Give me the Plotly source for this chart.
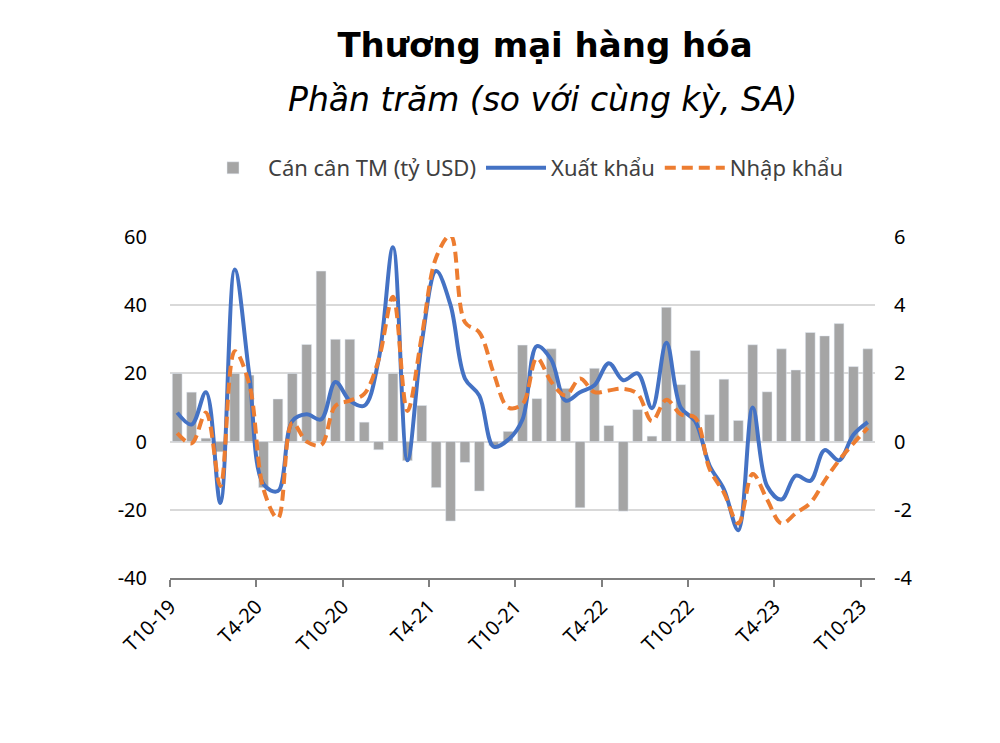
import plotly.graph_objects as go

months = list(range(49))  # T10-19 ... T10-23
tick_labels = ["T10-19", "T4-20", "T10-20", "T4-21", "T10-21", "T4-22", "T10-22", "T4-23", "T10-23"]
left_ticks = [-40, -20, 0, 20, 40, 60]
right_ticks = [-4, -2, 0, 2, 4, 6]

balance = [2.0, 1.45, 0.1, -0.3, 2.0, 1.95, -1.35, 1.25, 2.0, 2.85, 5.0, 3.0, 3.0, 0.57, -0.24,
           2.0, -0.56, 1.06, -1.35, -2.33, -0.61, -1.45, -0.12, 0.3, 2.83, 1.26, 2.72, 1.56,
           -1.94, 2.15, 0.47, -2.04, 0.94, 0.16, 3.94, 1.67, 2.67, 0.79, 1.83, 0.62, 2.84, 1.46,
           2.72, 2.1, 3.2, 3.1, 3.46, 2.2, 2.72]

exports = [8.5, 5.0, 14.5, -18.0, 50.5, 20.0, -12.5, -14.5, 6.0, 8.0, 6.5, 17.5, 12.0, 10.5, 24.0,
           57.0, -5.5, 29.0, 50.0, 40.0, 18.5, 13.5, -1.5, 0.5, 6.5, 28.0, 24.0, 12.0, 14.5, 16.5,
           23.0, 18.0, 20.0, 9.8, 29.0, 10.0, 6.0, -7.0, -14.0, -26.0, 10.0, -13.0, -17.0, -10.0,
           -11.5, -2.5, -5.5, 2.0, 5.7]

imports = [2.5, -0.5, 8.5, -13.0, 26.5, 17.0, -14.0, -22.5, 5.5, 0.0, -1.0, 10.5, 12.0, 14.0, 24.0,
           42.5, 9.0, 31.0, 54.0, 60.5, 35.0, 32.0, 20.0, 10.0, 11.0, 24.5, 17.5, 13.5, 18.5, 14.5,
           15.0, 15.5, 14.0, 6.0, 12.3, 8.0, 7.0, -8.0, -15.0, -24.0, -9.5, -17.0, -24.0, -21.0,
           -18.0, -11.5, -5.5, -0.5, 4.0]

font_family = "Noto Sans"
title_family = "DejaVu Sans"
txt = "#404040"

fig = go.Figure()
fig.add_trace(go.Bar(x=months, y=balance, name="Cán cân TM (tỷ USD)", marker_color="#a5a5a5",
                     width=0.68, yaxis="y"))
fig.add_trace(go.Scatter(x=months, y=exports, name="Xuất khẩu", mode="lines", yaxis="y2",
                         line=dict(color="#4472C4", width=4, shape="spline", smoothing=1.0)))
fig.add_trace(go.Scatter(x=months, y=imports, name="Nhập khẩu", mode="lines", yaxis="y2",
                         line=dict(color="#ED7D31", width=4, shape="spline", smoothing=1.0,
                                   dash="11px,6px")))

fig.update_layout(
    width=1000, height=743,
    margin=dict(l=170, r=125, t=237, b=165),
    paper_bgcolor="white", plot_bgcolor="white",
    font=dict(family=font_family, color=txt),
    title=dict(text="<b>Thương mại hàng hóa</b>", x=0.545, xanchor="center",
               y=1 - 45 / 743, yanchor="middle", yref="container",
               font=dict(size=34, color="black", family=title_family)),
    annotations=[dict(text="<i>Phần trăm (so với cùng kỳ, SA)</i>", xref="paper", yref="paper",
                      x=(542 - 170) / 705, y=(578 - 100) / 341, xanchor="center", yanchor="middle",
                      showarrow=False, font=dict(size=33, color="black", family=title_family))],
    legend=dict(orientation="h", x=(523 - 170) / 705, xanchor="center", y=(578 - 168) / 341,
                yanchor="middle", font=dict(size=22, color=txt), itemwidth=60,
                traceorder="normal"),
    xaxis=dict(range=[-0.5, 48.5], tickmode="array",
               tickvals=[i * 6 - 0.5 for i in range(len(tick_labels))], ticktext=tick_labels,
               tickangle=-45, tickfont=dict(size=20, color="black"),
               ticks="outside", ticklen=7, tickwidth=2, tickcolor="#7f7f7f",
               showline=True, linecolor="#7f7f7f", linewidth=2, showgrid=False, zeroline=False),
    yaxis=dict(range=[-4, 6], tickmode="array", tickvals=right_ticks,
               ticktext=[str(v) for v in right_ticks], side="right", showgrid=True,
               gridcolor="#d9d9d9", gridwidth=2, zeroline=False, showline=False, ticks="",
               tickfont=dict(size=20, color="black"), ticklabelstandoff=18),
    yaxis2=dict(range=[-40, 60], tickmode="array", tickvals=left_ticks,
                ticktext=[str(v) for v in left_ticks], side="left", overlaying="y",
                showgrid=False, zeroline=False, showline=False, ticks="",
                tickfont=dict(size=20, color="black"), ticklabelstandoff=22),
)

fig.write_html("out.html")
